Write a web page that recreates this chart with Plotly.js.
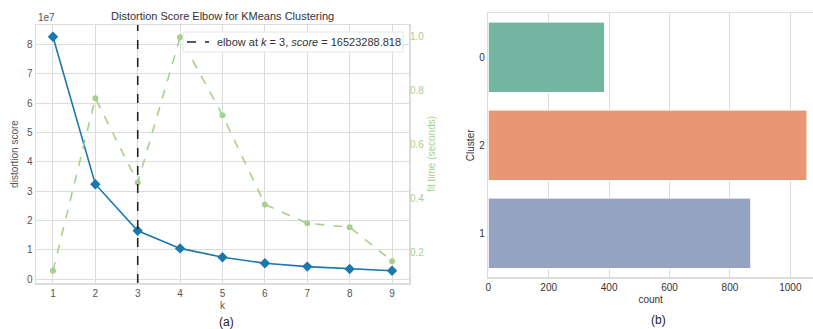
<!DOCTYPE html>
<html>
<head>
<meta charset="utf-8">
<script src="https://cdn.plot.ly/plotly-3.0.1.min.js"></script>
<style>html,body{margin:0;padding:0;background:#fff;}#chart{width:813px;height:329px;}</style>
</head>
<body>
<div id="chart"></div>
<script>
// ---- data (a): elbow plot ----
const kValues = [1, 2, 3, 4, 5, 6, 7, 8, 9];
const distortion = [82700000, 32400000, 16523288.818, 10500000, 7500000, 5450000, 4300000, 3500000, 2900000];
const fitTime = [0.132, 0.772, 0.459, 0.998, 0.709, 0.378, 0.308, 0.294, 0.168];
const elbowK = 3;
const elbowScore = 16523288.818;

// ---- data (b): cluster counts ----
const clusters = ['0', '2', '1'];
const counts = [385, 1055, 869];
const clusterColors = ['#72b6a1', '#e99675', '#95a3c3'];

const W = 813, H = 329;
const px = v => v / W, py = v => 1 - v / H;

const LEFT_FONT = 'Liberation Sans, Arial, sans-serif';
const RIGHT_FONT = 'Liberation Sans Narrow, Liberation Sans, Arial, sans-serif';
const GREEN = '#a8d08d';
const BLUE = '#1a78ad';
const GRID = '#dcdcdc';

const traces = [
  {
    x: kValues, y: distortion.map(v => v / 1e7), type: 'scatter', mode: 'lines+markers',
    line: {color: BLUE, width: 1.6}, marker: {symbol: 'diamond', size: 8, color: BLUE},
    xaxis: 'x', yaxis: 'y', showlegend: false, hoverinfo: 'skip'
  },
  {
    x: kValues, y: fitTime, type: 'scatter', mode: 'lines+markers',
    line: {color: GREEN, width: 1.6, dash: 'dash'}, marker: {symbol: 'circle', size: 6, color: GREEN},
    xaxis: 'x', yaxis: 'y2', showlegend: false, hoverinfo: 'skip'
  },
  {
    x: counts, y: clusters, type: 'bar', orientation: 'h',
    marker: {color: clusterColors, line: {color: '#ffffff', width: 1}},
    xaxis: 'x3', yaxis: 'y3', showlegend: false, hoverinfo: 'skip'
  }
];

const layout = {
  width: W, height: H,
  margin: {l: 0, r: 0, t: 0, b: 0},
  paper_bgcolor: '#fff', plot_bgcolor: '#fff',
  font: {family: LEFT_FONT, size: 10, color: '#555'},
  showlegend: false,
  xaxis: {
    domain: [px(36), px(409)], range: [0.6, 9.4], tickvals: kValues,
    showgrid: true, gridcolor: GRID, gridwidth: 1, zeroline: false,
    showline: true, mirror: true, linecolor: GRID, linewidth: 1.5,
    ticks: '', tickfont: {size: 10, color: '#555'},
    title: {text: 'k', font: {size: 10, color: '#555'}, standoff: 4},
    anchor: 'y'
  },
  yaxis: {
    domain: [py(283), py(25)], range: [-0.13, 8.67], tickvals: [0,1,2,3,4,5,6,7,8],
    showgrid: true, gridcolor: GRID, gridwidth: 1, zeroline: false,
    showline: true, mirror: true, linecolor: GRID, linewidth: 1.5,
    ticks: '', tickfont: {size: 10, color: '#555'},
    title: {text: 'distortion score', font: {size: 10, color: '#555'}, standoff: 6},
    anchor: 'x'
  },
  yaxis2: {
    overlaying: 'y', side: 'right', anchor: 'x',
    range: [0.087, 1.043], tickvals: [0.2, 0.4, 0.6, 0.8, 1.0], tickformat: '.1f',
    showgrid: false, zeroline: false, showline: false, ticks: '',
    tickfont: {size: 10, color: GREEN},
    title: {text: 'fit time (seconds)', font: {size: 10, color: GREEN}, standoff: 4}
  },
  xaxis3: {
    domain: [px(488.3), 1], range: [0, 1075], tickvals: [0, 200, 400, 600, 800, 1000],
    showgrid: true, gridcolor: GRID, gridwidth: 1, zeroline: false,
    showline: true, mirror: true, linecolor: GRID, linewidth: 1.5,
    ticks: '', tickfont: {family: RIGHT_FONT, size: 10, color: '#333'},
    title: {text: 'count', font: {family: RIGHT_FONT, size: 10, color: '#333'}, standoff: 4},
    anchor: 'y3'
  },
  yaxis3: {
    domain: [py(277.3), py(13.3)], type: 'category', categoryorder: 'array', categoryarray: clusters,
    range: [2.5, -0.5],
    showgrid: false, zeroline: false,
    showline: true, mirror: true, linecolor: GRID, linewidth: 1.5,
    ticks: '', tickfont: {family: RIGHT_FONT, size: 10, color: '#333'},
    title: {text: 'Cluster', font: {family: RIGHT_FONT, size: 10, color: '#333'}, standoff: 2},
    anchor: 'x3'
  },
  bargap: 0.2,
  shapes: [
    {type: 'line', xref: 'x', yref: 'y domain', x0: elbowK, x1: elbowK, y0: 0, y1: 1,
     line: {color: '#222', width: 1.6, dash: 'dash'}},
    // legend box
    {type: 'rect', xref: 'paper', yref: 'paper', x0: px(183), x1: px(403), y0: py(52), y1: py(32),
     fillcolor: 'rgba(255,255,255,0.92)', line: {color: '#e6e6e6', width: 1}, layer: 'above'},
    {type: 'line', xref: 'paper', yref: 'paper', x0: px(187), x1: px(209), y0: py(42), y1: py(42),
     line: {color: '#222', width: 1.6, dash: 'dash'}, layer: 'above'}
  ],
  annotations: [
    {text: 'Distortion Score Elbow for KMeans Clustering', xref: 'paper', yref: 'paper',
     x: px(222.5), y: py(16), xanchor: 'center', yanchor: 'middle', showarrow: false,
     font: {family: LEFT_FONT, size: 11, color: '#333'}},
    {text: 'elbow at <i>k</i> = ' + elbowK + ', <i>score</i> = ' + elbowScore.toFixed(3),
     xref: 'paper', yref: 'paper', x: px(215), y: py(42), xanchor: 'left', yanchor: 'middle',
     showarrow: false, font: {family: LEFT_FONT, size: 11, color: '#333'}},
    {text: '1e7', xref: 'paper', yref: 'paper', x: px(36), y: py(18), xanchor: 'left', yanchor: 'middle',
     showarrow: false, font: {family: LEFT_FONT, size: 10, color: '#555'}},
    {text: '(a)', xref: 'paper', yref: 'paper', x: px(226), y: py(322), xanchor: 'center', yanchor: 'middle',
     showarrow: false, font: {family: LEFT_FONT, size: 12, color: '#222'}},
    {text: '(b)', xref: 'paper', yref: 'paper', x: px(658), y: py(320), xanchor: 'center', yanchor: 'middle',
     showarrow: false, font: {family: LEFT_FONT, size: 12, color: '#222'}}
  ]
};

Plotly.newPlot('chart', traces, layout, {displayModeBar: false, staticPlot: true});
</script>
</body>
</html>
